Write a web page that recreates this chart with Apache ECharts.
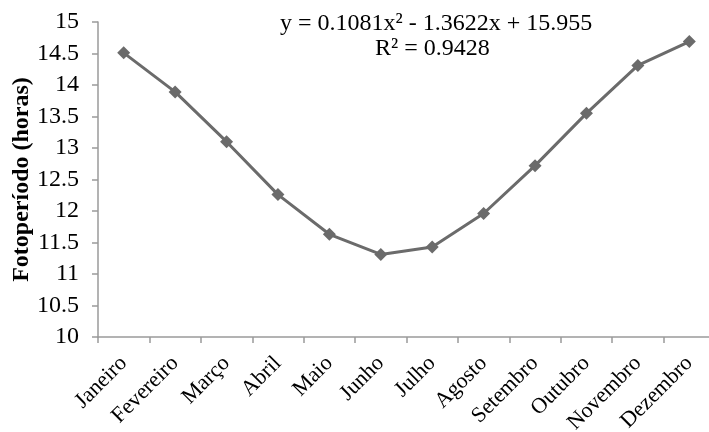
<!DOCTYPE html>
<html><head><meta charset="utf-8">
<script src="https://cdn.jsdelivr.net/npm/echarts@6/dist/echarts.min.js"></script>
<style>html,body{margin:0;padding:0;background:#fff}#c{width:709px;height:432px}</style>
</head><body><div id="c"></div>
<script>
const months = ['Janeiro','Fevereiro','Março','Abril','Maio','Junho','Julho','Agosto','Setembro','Outubro','Novembro','Dezembro'];
const fotoperiodo = [14.51, 13.89, 13.10, 12.26, 11.63, 11.31, 11.43, 11.96, 12.72, 13.55, 14.31, 14.69];
const yTicks = [10, 10.5, 11, 11.5, 12, 12.5, 13, 13.5, 14, 14.5, 15];
const equationText = 'y = 0.1081x² - 1.3622x + 15.955';
const r2Text = 'R² = 0.9428';
const yName = 'Fotoperíodo (horas)';

const serif = '"Liberation Serif", "Times New Roman", serif';
const chart = echarts.init(document.getElementById('c'));
chart.setOption({
  animation: false,
  grid: {left: 98, top: 22, width: 617, height: 315, containLabel: false, outerBoundsMode: 'none'},
  xAxis: {
    type: 'category', data: months, boundaryGap: true,
    axisLine: {lineStyle: {color: '#9a9a9a', width: 1.5}},
    axisTick: {show: true, length: 6, inside: false, lineStyle: {color: '#9a9a9a', width: 1.5}},
    axisLabel: {rotate: 45, interval: 0, color: '#000', fontFamily: serif, fontSize: 22, margin: 23}
  },
  yAxis: {
    type: 'value', min: yTicks[0], max: yTicks[yTicks.length-1], interval: 0.5,
    name: yName, nameLocation: 'middle', nameGap: 64, nameRotate: 90, nameMoveOverlap: false,
    nameTextStyle: {fontFamily: serif, fontSize: 24, fontWeight: 'bold', color: '#000'},
    splitLine: {show: false},
    axisLine: {show: true, lineStyle: {color: '#9a9a9a', width: 1.5}},
    axisTick: {show: true, length: 6, lineStyle: {color: '#9a9a9a', width: 1.5}},
    axisLabel: {color: '#000', fontFamily: serif, fontSize: 24, margin: 19}
  },
  graphic: [
    {type: 'text', left: 280, top: 12, style: {text: equationText, font: '24px ' + serif, fill: '#000'}},
    {type: 'text', left: 375, top: 37, style: {text: r2Text, font: '24px ' + serif, fill: '#000'}}
  ],
  series: [{
    type: 'line', data: fotoperiodo,
    symbol: 'diamond', symbolSize: 13,
    lineStyle: {color: '#6b6b6b', width: 3},
    itemStyle: {color: '#6b6b6b'}
  }]
});
</script></body></html>
